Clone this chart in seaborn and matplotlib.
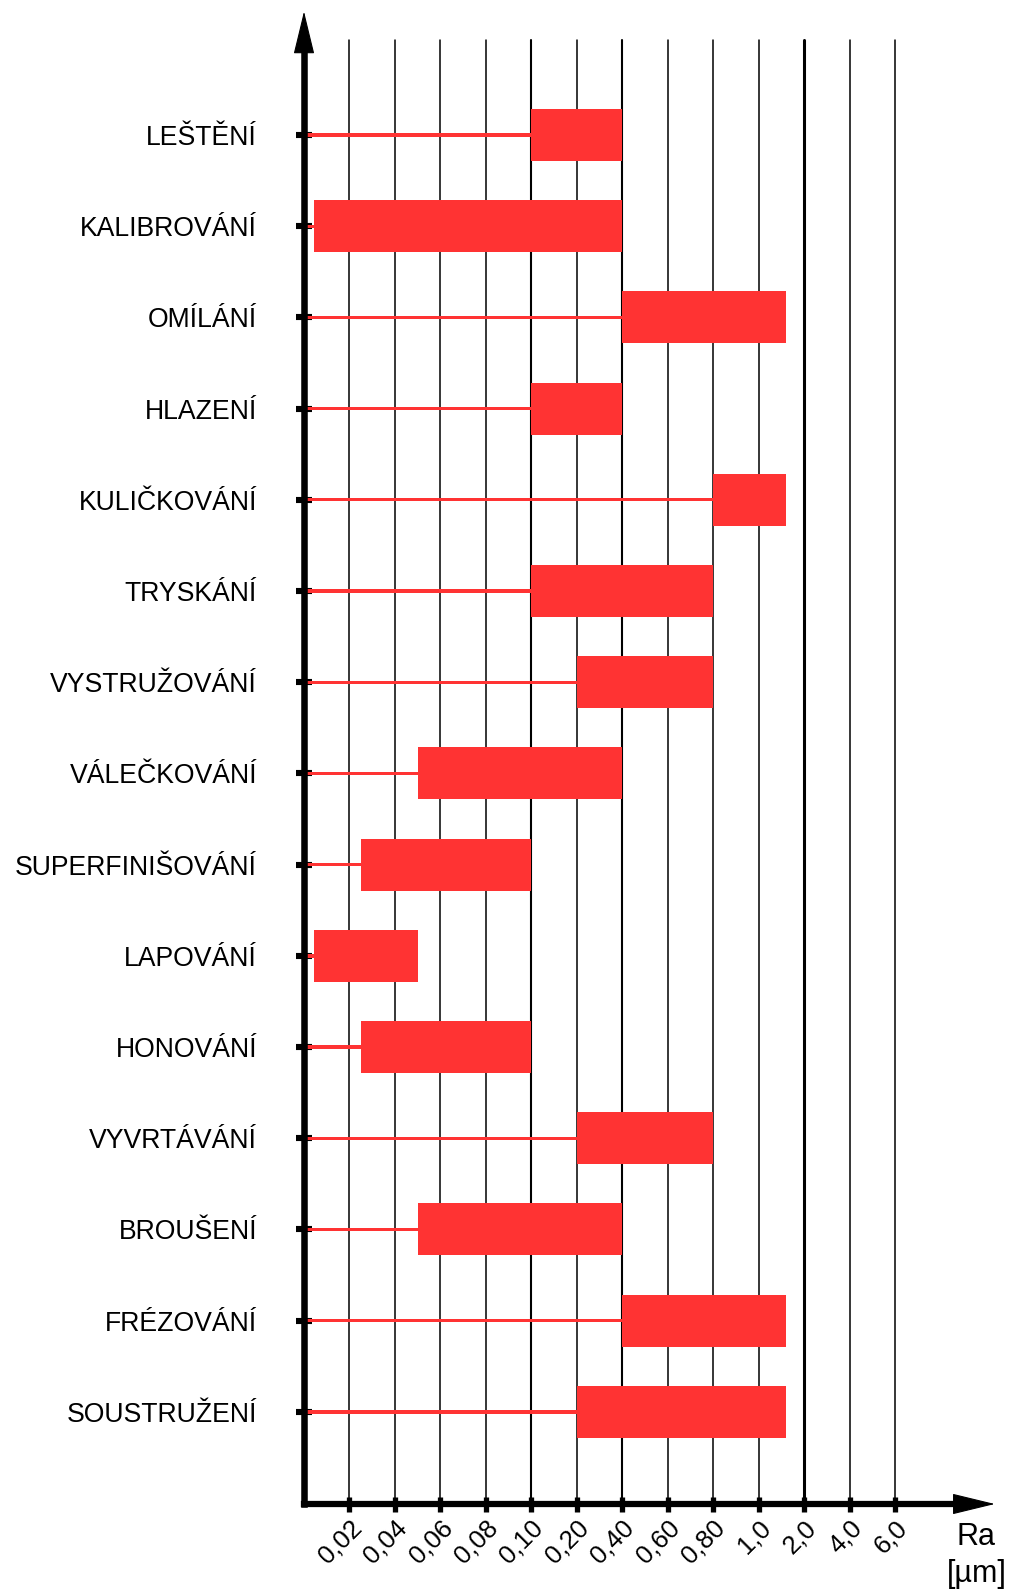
import numpy as np
import pandas as pd
import matplotlib.pyplot as plt
import matplotlib.transforms as mtransforms
import seaborn as sns

# Drsnost povrchu Ra [um] podle technologie
procesy = ["LEŠTĚNÍ", "KALIBROVÁNÍ", "OMÍLÁNÍ", "HLAZENÍ", "KULIČKOVÁNÍ",
           "TRYSKÁNÍ", "VYSTRUŽOVÁNÍ", "VÁLEČKOVÁNÍ", "SUPERFINIŠOVÁNÍ",
           "LAPOVÁNÍ", "HONOVÁNÍ", "VYVRTÁVÁNÍ", "BROUŠENÍ", "FRÉZOVÁNÍ",
           "SOUSTRUŽENÍ"]
ra_min = [0.10, 0.0045, 0.40, 0.10, 0.80, 0.10, 0.20, 0.05, 0.025,
          0.0045, 0.025, 0.20, 0.05, 0.40, 0.20]
ra_max = [0.40, 0.40, 1.6, 0.40, 1.6, 0.80, 0.80, 0.40, 0.10,
          0.05, 0.10, 0.80, 0.40, 1.6, 1.6]

ra_ticks = [0.02, 0.04, 0.06, 0.08, 0.10, 0.20, 0.40, 0.60, 0.80,
            1.0, 2.0, 4.0, 6.0]
ra_labels = ["0,02", "0,04", "0,06", "0,08", "0,10", "0,20", "0,40",
             "0,60", "0,80", "1,0", "2,0", "4,0", "6,0"]

RED = "#FF3333"

sns.set_theme(style="white")
plt.rcParams['font.family'] = ['Liberation Sans', 'DejaVu Sans']

df = pd.DataFrame({"proces": procesy, "start": ra_min,
                   "delka": np.subtract(ra_max, ra_min)})

fig = plt.figure(figsize=(10.14, 15.89), dpi=100)
ax = fig.add_axes([0.2998, 0.05349, 0.5833, 0.92134])

# stem from the axis to start of the range, then the range bar
sns.barplot(data=df, x="start", y="proces", color=RED, saturation=1,
            width=0.036, ax=ax, orient="h", zorder=3,
            linewidth=0, edgecolor="none")
sns.barplot(data=df, x="delka", y="proces", color=RED, saturation=1,
            width=0.57, left=df["start"].to_numpy(), ax=ax, orient="h",
            zorder=3, linewidth=0, edgecolor="none")

# ordinal-like axis: tick values equally spaced
steps = [0.0] + ra_ticks
pos = np.arange(len(steps), dtype=float)
ax.set_xscale("function",
              functions=(lambda v: np.interp(v, steps, pos),
                         lambda p: np.interp(p, pos, steps)))
ax.set_xlim(0, 6.0)
ax.set_ylim(15.01, -1.042)

# vertical grid
grid_lw = {0.10: 1.5, 0.40: 1.5, 2.0: 2.2}
for t in ra_ticks:
    ax.axvline(t, color="black", lw=grid_lw.get(t, 1.1), zorder=1,
               clip_on=False)

for s in ax.spines.values():
    s.set_visible(False)

# axes with arrows
ax.plot([0, 0], [0, 1.0], transform=ax.transAxes, color="black", lw=4.7,
        solid_capstyle="projecting", clip_on=False, zorder=5)
ax.plot([0, 1.105], [0, 0], transform=ax.transAxes, color="black", lw=4.5,
        solid_capstyle="projecting", clip_on=False, zorder=5)
head = dict(arrowstyle="-|>,head_length=1.4,head_width=0.34",
            mutation_scale=20, lw=0.8, color="black", shrinkA=0, shrinkB=0)
ax.annotate("", xy=(0, 1.0195), xytext=(0, 0.9), xycoords="axes fraction",
            arrowprops=head, zorder=6)
ax.annotate("", xy=(1.168, 0), xytext=(1.0, 0), xycoords="axes fraction",
            arrowprops=head, zorder=6)

ax.set_xticks(ra_ticks)
ax.set_xticklabels(ra_labels, rotation=45, ha="right", va="baseline",
                   rotation_mode="anchor", fontsize=18.5)
ax.tick_params(axis="x", which="major", direction="inout", length=10.8,
               width=3.8, color="black", pad=12.6, bottom=True)
ax.tick_params(axis="x", which="minor", bottom=False)
ax.tick_params(axis="y", direction="inout", length=11.5, width=4.4,
               color="black", pad=28, labelsize=19.2, left=True)
shift = mtransforms.ScaledTranslation(0.13, 0, fig.dpi_scale_trans)
for lbl in ax.get_xticklabels():
    lbl.set_transform(lbl.get_transform() + shift)
    lbl.set_color("black")
for lbl in ax.get_yticklabels():
    lbl.set_color("black")

ax.set_xlabel("")
ax.set_ylabel("")
ax.grid(False)

fig.text(976 / 1014, 1 - 1537 / 1589, "Ra", ha="center", va="center",
         fontsize=22, color="black")
fig.text(977 / 1014, 1 - 1574 / 1589, "[µm]", ha="center", va="center",
         fontsize=22, color="black")

fig.savefig("out.png", dpi=100, facecolor="white")
